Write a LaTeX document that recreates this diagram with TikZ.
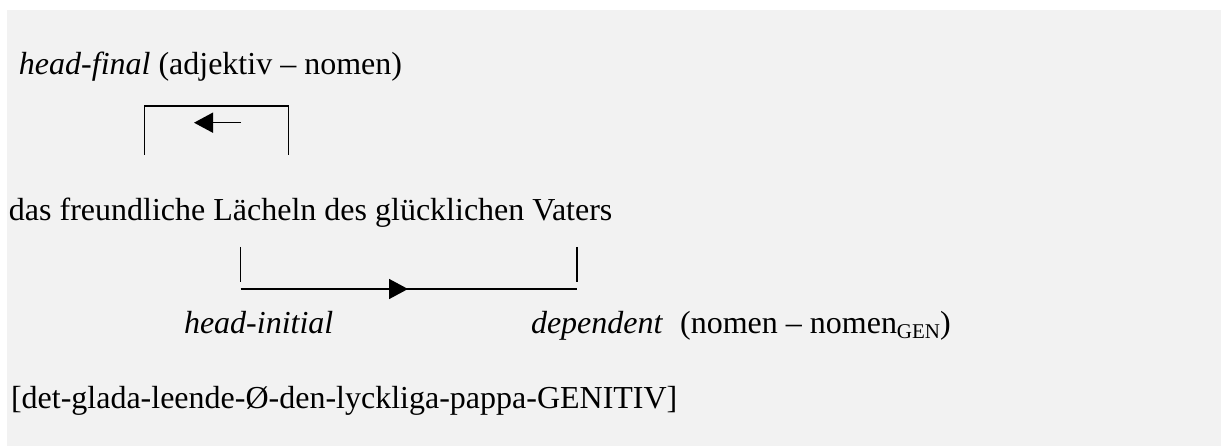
\documentclass[tikz,border=0pt]{standalone}
\usepackage{fontspec}
\setmainfont{Liberation Serif}
\usetikzlibrary{arrows.meta}
\begin{document}
\begin{tikzpicture}[x=1pt,y=-1pt,
  txt/.style={anchor=base west,inner sep=0pt,outer sep=0pt,font=\fontsize{32}{38}\selectfont},
  brk/.style={line width=1.1pt},
  arr/.style={line width=1.6pt,-{Triangle[length=19pt,width=20pt]}}]
\useasboundingbox (0,0) rectangle (1221,446);
\fill[white] (0,0) rectangle (1221,446);
\fill[black!5] (7,10) rectangle (1221,446);
% texts
\node[txt] (hf) at (19,75) {\textit{head-final} (adjektiv – nomen)};
\node[txt] (main) at (9,221) {das freundliche Lächeln des glücklichen Vaters};
\node[txt] (hi) at (184,334) {\textit{head-initial}};
\node[txt] (dep) at (531,334) {\textit{dependent}\hspace{17pt}(nomen – nomen\raisebox{-5pt}{\fontsize{21}{24}\selectfont GEN})};
\node[txt] (gloss) at (11,408) {[det-glada-leende-Ø-den-lyckliga-pappa-GENITIV]};
% upper bracket
\coordinate (u1) at (144.7,155);
\coordinate (u2) at (144.7,106);
\coordinate (u3) at (288.7,106);
\coordinate (u4) at (288.7,155);
\draw[brk] (u1) -- (u2) -- (u3) -- (u4);
\coordinate (ua) at (241,122.7);
\coordinate (ub) at (194,122.7);
\draw[arr] (ua) -- (ub);
% lower bracket
\coordinate (l1) at (240.7,247);
\coordinate (l2) at (240.7,282);
\coordinate (l3) at (577,247);
\coordinate (l4) at (577,282);
\draw[brk] (l1) -- (l2);
\draw[brk] (l3) -- (l4);
\coordinate (h1) at (240.7,289);
\coordinate (h2) at (577,289);
\draw[brk] (h1) -- (h2);
\coordinate (la) at (288,289);
\coordinate (lb) at (408,289);
\draw[arr] (la) -- (lb);
\end{tikzpicture}
\end{document}
